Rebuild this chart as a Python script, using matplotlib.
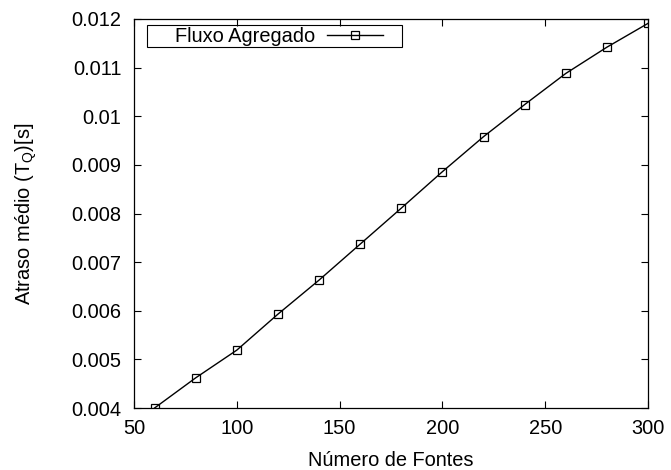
import matplotlib
matplotlib.use("Agg")
import matplotlib.pyplot as plt
from matplotlib.patches import Rectangle

plt.rcParams['font.family'] = ['Liberation Sans', 'DejaVu Sans']
plt.rcParams['mathtext.fontset'] = 'custom'
plt.rcParams['mathtext.rm'] = 'Liberation Sans'
plt.rcParams['mathtext.it'] = 'Liberation Sans'

# data
fontes = [60, 80, 100, 120, 140, 160, 180, 200, 220, 240, 260, 280, 300]
atraso = [0.00400, 0.00462, 0.00519, 0.00593, 0.00663, 0.00737, 0.00811,
          0.00886, 0.00958, 0.01024, 0.01088, 0.01142, 0.01191]
xticks = [50, 100, 150, 200, 250, 300]
yticks = [0.004, 0.005, 0.006, 0.007, 0.008, 0.009, 0.010, 0.011, 0.012]

FS = 14.4
W, H = 671, 470
L, R, T, B = 134, 648, 19, 408

fig = plt.figure(figsize=(W / 100, H / 100), dpi=100)
ax = fig.add_axes([L / W, 1 - B / H, (R - L) / W, (B - T) / H])

ax.plot(fontes, atraso, color='black', lw=1, marker='s', markersize=5.5,
        markerfacecolor='none', markeredgecolor='black', markeredgewidth=0.9,
        label='Fluxo Agregado')

ax.set_xlim(50, 300)
ax.set_ylim(0.004, 0.012)
ax.set_xticks(xticks)
ax.set_yticks(yticks)
ax.set_yticklabels([f"{v:g}" for v in yticks])
ax.tick_params(direction='in', length=5, width=0.8, top=True, right=True,
               labelsize=FS, colors='black')
ax.tick_params(axis='y', pad=9)
ax.tick_params(axis='x', pad=8)
for s in ax.spines.values():
    s.set_linewidth(0.9)

ax.set_xlabel('Número de Fontes', fontsize=FS, labelpad=9.5)
ax.set_ylabel(r'Atraso médio (T$_\mathrm{Q}$)[s]', fontsize=FS, labelpad=23)

# gnuplot-like key: text first, sample on the right, boxed
pw, ph = R - L, B - T
leg = ax.legend(loc='center left', bbox_to_anchor=((175 - L) / pw, 1 - (36 - T) / ph),
                markerfirst=False, fontsize=FS, frameon=False,
                borderpad=0, borderaxespad=0, handlelength=2.8,
                handletextpad=0.6)
ax.add_patch(Rectangle(((146.5 - L) / pw, 1 - (46.5 - T) / ph),
                       (402 - 146.5) / pw, (46.5 - 25) / ph,
                       transform=ax.transAxes, fill=False, edgecolor='black',
                       lw=0.8, zorder=5))

fig.savefig('out.png', dpi=100)
